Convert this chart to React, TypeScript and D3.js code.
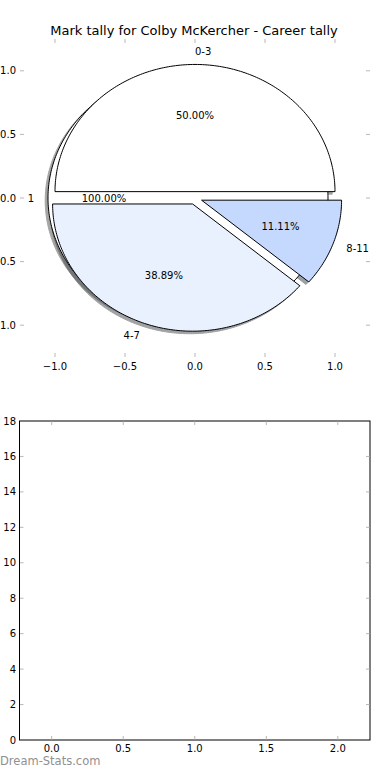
import * as d3 from 'd3';

const TITLE = 'Mark tally for Colby McKercher - Career tally';

// pie data (marks per game buckets)
const sliceLabels = ['0-3', '4-7', '8-11'];
const sliceValues = [9, 7, 2];
const sliceColors = ['#ffffff', '#e9f0fe', '#c5d9fe'];

// second pie drawn underneath: one slice
const totalLabels = ['1'];
const totalValues = [18];
const totalColors = ['#ffffff'];

const pieTicks = [-1, -0.5, 0, 0.5, 1];
const barXTicks = [0, 0.5, 1, 1.5, 2];
const barYTicks = [0, 2, 4, 6, 8, 10, 12, 14, 16, 18];

const FONT = 'DejaVu Sans, Liberation Sans, sans-serif';
const TICK_COLOR = '#b8b8b8';
const EXPLODE = 0.05;
const SHADOW = -0.02;

type Wedge = { t1: number; t2: number; mid: number; cx: number; cy: number; frac: number };

function layoutPie(values: number[]): Wedge[] {
    const total = d3.sum(values);
    let a = 0;
    return values.map(v => {
        const t1 = a;
        const t2 = a + (360 * v) / total;
        a = t2;
        const mid = ((t1 + t2) / 2) * Math.PI / 180;
        return { t1, t2, mid, cx: EXPLODE * Math.cos(mid), cy: EXPLODE * Math.sin(mid), frac: v / total };
    });
}

const fmt = (d: number) => d3.format('.1f')(d).replace('-', '\u2212');

export default function App() {
    const W = 390;
    const H = 780;

    // top (pie) axes
    const px = d3.scaleLinear().domain([-1.25, 1.25]).range([20, 370]);
    const py = d3.scaleLinear().domain([-1.25, 1.25]).range([357, 39]);

    // bottom (empty) axes
    const bx = d3.scaleLinear().domain([-0.225, 2.225]).range([19.5, 370]);
    const by = d3.scaleLinear().domain([0, 18]).range([740, 421]);

    const line = d3.line<[number, number]>().x(p => px(p[0])).y(p => py(p[1]));

    const wedgePath = (w: Wedge, ox = 0, oy = 0) => {
        const full = Math.abs(w.t2 - w.t1 - 360) < 1e-9;
        const n = Math.max(4, Math.ceil(w.t2 - w.t1));
        const pts: [number, number][] = d3.range(n + 1).map(i => {
            const t = (w.t1 + ((w.t2 - w.t1) * i) / n) * Math.PI / 180;
            return [w.cx + ox + Math.cos(t), w.cy + oy + Math.sin(t)];
        });
        if (!full) pts.unshift([w.cx + ox, w.cy + oy]);
        return line(pts) + 'Z';
    };

    const shadowColor = (c: string) => {
        const r = d3.rgb(c);
        return d3.rgb(r.r * 0.3, r.g * 0.3, r.b * 0.3).formatHex();
    };

    const base = layoutPie(totalValues);
    const main = layoutPie(sliceValues);

    const pies = [
        { wedges: base, labels: totalLabels, colors: totalColors },
        { wedges: main, labels: sliceLabels, colors: sliceColors },
    ];

    return (
        <svg width={W} height={H} style={{ position: 'absolute', left: 0, top: 0, background: '#fff' }} fontFamily={FONT}>
            <rect width={W} height={H} fill="#fff" />
            <text x={194} y={30} textAnchor="middle" dominantBaseline="central" fontSize={13} fill="#000">
                {TITLE}
            </text>

            {/* pie axes ticks (frame hidden) */}
            <g stroke={TICK_COLOR} strokeWidth={1}>
                {pieTicks.map(t => (
                    <g key={'px' + t}>
                        <line x1={px(t)} x2={px(t)} y1={357} y2={353} />
                        <line x1={px(t)} x2={px(t)} y1={39} y2={43} />
                        <line x1={20} x2={24} y1={py(t)} y2={py(t)} />
                        <line x1={370} x2={366} y1={py(t)} y2={py(t)} />
                    </g>
                ))}
            </g>
            <g fontSize={10} fill="#000">
                {pieTicks.map(t => (
                    <text key={'pxl' + t} x={px(t)} y={366} textAnchor="middle" dominantBaseline="central">
                        {fmt(t)}
                    </text>
                ))}
                {pieTicks.map(t => (
                    <text key={'pyl' + t} x={16} y={py(t)} textAnchor="end" dominantBaseline="central">
                        {fmt(t)}
                    </text>
                ))}
            </g>

            {/* shadows */}
            {pies.map((p, pi) =>
                p.wedges.map((w, i) => (
                    <path
                        key={`s${pi}-${i}`}
                        d={wedgePath(w, SHADOW, SHADOW)}
                        fill={shadowColor(p.colors[i])}
                        stroke={shadowColor(p.colors[i])}
                        strokeWidth={1}
                        opacity={0.5}
                    />
                ))
            )}

            {/* wedges */}
            {pies.map((p, pi) =>
                p.wedges.map((w, i) => (
                    <path
                        key={`w${pi}-${i}`}
                        d={wedgePath(w)}
                        fill={p.colors[i]}
                        stroke="#000"
                        strokeWidth={1}
                        strokeLinejoin="miter"
                    />
                ))
            )}

            {/* labels */}
            <g fontSize={10} fill="#000">
                {pies.map((p, pi) =>
                    p.wedges.map((w, i) => {
                        const lx = w.cx + 1.1 * Math.cos(w.mid);
                        const ly = w.cy + 1.1 * Math.sin(w.mid);
                        const tx = w.cx + 0.6 * Math.cos(w.mid);
                        const ty = w.cy + 0.6 * Math.sin(w.mid);
                        return (
                            <g key={`l${pi}-${i}`}>
                                <text
                                    x={px(lx)}
                                    y={py(ly)}
                                    textAnchor={lx > 0 ? 'start' : 'end'}
                                    dominantBaseline="central"
                                >
                                    {p.labels[i]}
                                </text>
                                <text x={px(tx)} y={py(ty)} textAnchor="middle" dominantBaseline="central">
                                    {d3.format('.2f')(w.frac * 100) + '%'}
                                </text>
                            </g>
                        );
                    })
                )}
            </g>

            {/* bottom axes */}
            <rect x={19.5} y={421} width={350.5} height={319} fill="none" stroke="#000" strokeWidth={1} />
            <g stroke={TICK_COLOR} strokeWidth={1}>
                {barXTicks.map(t => (
                    <g key={'bx' + t}>
                        <line x1={bx(t)} x2={bx(t)} y1={739.5} y2={736} />
                        <line x1={bx(t)} x2={bx(t)} y1={421.5} y2={425} />
                    </g>
                ))}
                {barYTicks.slice(1, -1).map(t => (
                    <g key={'by' + t}>
                        <line x1={20} x2={23.5} y1={by(t)} y2={by(t)} />
                        <line x1={369.5} x2={366} y1={by(t)} y2={by(t)} />
                    </g>
                ))}
            </g>
            <g fontSize={10} fill="#000">
                {barXTicks.map(t => (
                    <text key={'bxl' + t} x={bx(t)} y={748} textAnchor="middle" dominantBaseline="central">
                        {fmt(t)}
                    </text>
                ))}
                {barYTicks.map(t => (
                    <text key={'byl' + t} x={16} y={by(t)} textAnchor="end" dominantBaseline="central">
                        {t}
                    </text>
                ))}
            </g>

            <text x={0} y={761} dominantBaseline="central" fontSize={11.5} fill="#909090">
                Dream-Stats.com
            </text>
        </svg>
    );
}
